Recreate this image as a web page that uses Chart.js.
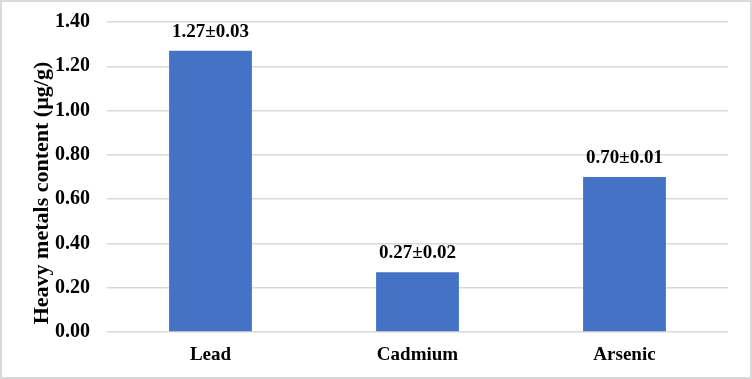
<!DOCTYPE html>
<html>
<head>
<meta charset="utf-8">
<script src="https://cdn.jsdelivr.net/npm/chart.js@4"></script>
<style>
  html, body { margin: 0; padding: 0; background: #fff; }
  #wrap { width: 752px; height: 379px; }
</style>
</head>
<body>
<div id="wrap"><canvas id="metalsChart" width="752" height="379"></canvas></div>
<script>
const categories = ["Lead", "Cadmium", "Arsenic"];
const contentValues = [1.27, 0.27, 0.70];
const errorValues = [0.03, 0.02, 0.01];
const yTitle = "Heavy metals content (\u00b5g/g)";

const serif = "'Liberation Serif', 'Times New Roman', serif";

// border + white background
const frame = {
  id: "frame",
  beforeDraw(chart) {
    const c = chart.ctx;
    c.save();
    c.fillStyle = "#fff";
    c.fillRect(0, 0, chart.width, chart.height);
    c.restore();
  },
  afterDraw(chart) {
    const c = chart.ctx;
    c.save();
    c.strokeStyle = "#d9d9d9";
    c.lineWidth = 2;
    c.strokeRect(1, 1, chart.width - 2, chart.height - 2);
    c.restore();
  }
};

// y title sits a bit below the middle of the plot in the original
const yTitlePlugin = {
  id: "yTitlePlugin",
  afterDraw(chart) {
    const c = chart.ctx;
    const area = chart.chartArea;
    c.save();
    c.translate(42, (area.top + area.bottom) / 2 + 16);
    c.rotate(-Math.PI / 2);
    c.font = "bold 22px " + serif;
    c.fillStyle = "#000";
    c.textAlign = "center";
    c.textBaseline = "middle";
    c.fillText(yTitle, 0, 0);
    c.restore();
  }
};

// value ± error above each bar
const barLabels = {
  id: "barLabels",
  afterDatasetsDraw(chart) {
    const c = chart.ctx;
    const meta = chart.getDatasetMeta(0);
    c.save();
    c.font = "bold 19px " + serif;
    c.fillStyle = "#000";
    c.textAlign = "center";
    c.textBaseline = "middle";
    meta.data.forEach((bar, i) => {
      const txt = contentValues[i].toFixed(2) + "\u00b1" + errorValues[i].toFixed(2);
      c.fillText(txt, bar.x, bar.y - 19);
    });
    c.restore();
  }
};

new Chart(document.getElementById("metalsChart"), {
  type: "bar",
  data: {
    labels: categories,
    datasets: [{
      data: contentValues,
      backgroundColor: "#4472C4",
      categoryPercentage: 1,
      barPercentage: 0.4
    }]
  },
  options: {
    responsive: false,
    animation: false,
    layout: { padding: { left: 29, right: 24, top: 0, bottom: 12 } },
    plugins: {
      legend: { display: false },
      tooltip: { enabled: false }
    },
    scales: {
      x: {
        afterFit(scale) { scale.height = 35; },
        grid: { display: false, drawTicks: false },
        border: { display: false },
        ticks: {
          color: "#000",
          font: { family: serif, size: 19, weight: "bold" },
          padding: 12
        }
      },
      y: {
        min: 0,
        max: 1.4,
        afterFit(scale) {
          scale.width = 78;
          scale.paddingTop = 22;
          scale.paddingBottom = 0;
        },
        grid: { color: "#d9d9d9", lineWidth: 1.5, drawTicks: false },
        border: { display: false },
        ticks: {
          stepSize: 0.2,
          color: "#000",
          padding: 17,
          font: { family: serif, size: 20, weight: "bold" },
          callback: v => v.toFixed(2)
        }
      }
    }
  },
  plugins: [frame, yTitlePlugin, barLabels]
});
</script>
</body>
</html>
